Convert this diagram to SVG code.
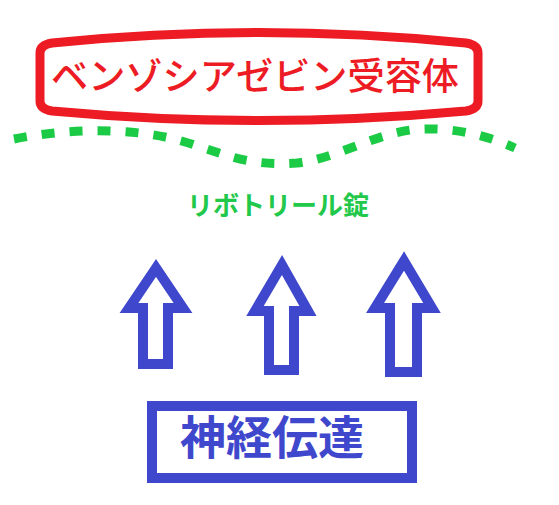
<svg xmlns="http://www.w3.org/2000/svg" width="559" height="505" viewBox="0 0 559 505">
<style>
.jp{font-family:"Noto Sans CJK JP","Noto Sans CJK SC",sans-serif}
.arrow{fill:#fff;stroke:#3F48CC;stroke-width:10;stroke-linejoin:miter;stroke-miterlimit:10}
</style>
<rect width="559" height="505" fill="#fff"/>
<g id="receptor">
<path d="M40,53 Q40,45 52,43 Q258,22 466,43 Q478,45 478,53 L478,101 Q478,109 466,111 Q258,130 52,111 Q40,109 40,101 Z" fill="#fff" stroke="#ED1C24" stroke-width="9"/>
<text class="jp" x="51" y="90" font-size="37" font-weight="500" fill="#ED1C24" textLength="408" lengthAdjust="spacingAndGlyphs">ベンゾシアゼビン受容体</text>
</g>
<g id="connectors">
<path d="M14,139 C80,126 150,128 200,147 C230,156 250,166 297,163 C340,158 380,130 423,129 C460,128 490,137 515,148" fill="none" stroke="#1BCB45" stroke-width="9" stroke-dasharray="13 15" stroke-linecap="butt"/>
</g>
<g id="drug">
<text class="jp" x="278" y="215" font-size="26" font-weight="bold" fill="#22C84A" text-anchor="middle">リボトリール錠</text>
</g>
<g id="arrow1"><path class="arrow" d="M156,268 L129,308 L143,308 L143,364 L168,364 L168,308 L183,308 Z"/></g>
<g id="arrow2"><path class="arrow" d="M282,265 L255,311 L269,311 L269,370 L294,370 L294,311 L308,311 Z"/></g>
<g id="arrow3"><path class="arrow" d="M404,261 L375,308 L390,308 L390,372 L417,372 L417,308 L432,308 Z"/></g>
<g id="transmission">
<rect x="152" y="406" width="260" height="72" fill="#fff" stroke="#3F48CC" stroke-width="10"/>
<text class="jp" x="180" y="454" font-size="46" font-weight="bold" fill="#3F48CC">神経伝達</text>
</g>
</svg>
